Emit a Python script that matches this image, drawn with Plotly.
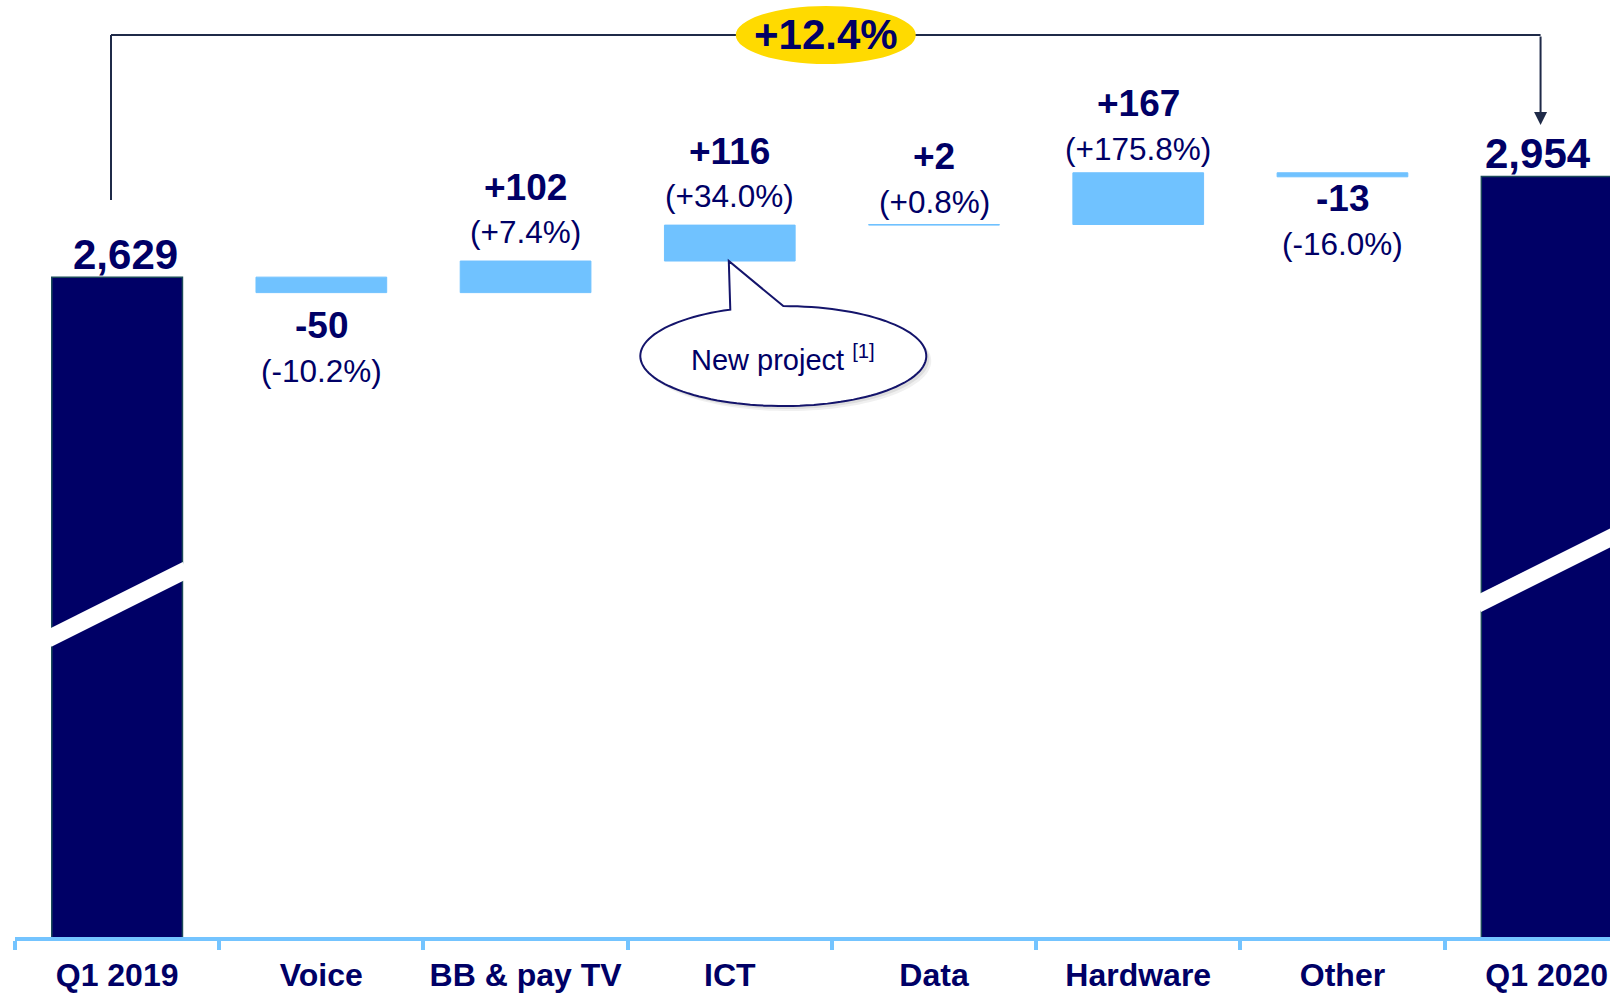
import numpy as np
import plotly.graph_objects as go

# =============================================================================
# DATA
# =============================================================================

categories = ["Q1 2019", "Voice", "BB & pay TV", "ICT", "Data", "Hardware", "Other", "Q1 2020"]
values = [2629, -50, 102, 116, 2, 167, -13, 2954]
measures = ["absolute", "relative", "relative", "relative", "relative", "relative", "relative", "absolute"]
value_labels = ["2,629", "-50", "+102", "+116", "+2", "+167", "-13", "2,954"]
pct_labels = ["", "(-10.2%)", "(+7.4%)", "(+34.0%)", "(+0.8%)", "(+175.8%)", "(-16.0%)", ""]
growth_label = "+12.4%"
callout_label = "New project <sup>[1]</sup>"
callout_category = "ICT"

# =============================================================================
# STYLE
# =============================================================================

NAVY = "#000066"
LIGHT_BLUE = "#70C2FF"
AXIS_BLUE = "#74C4FF"
BRACKET = "#1F2A48"
YELLOW = "#FFDA00"
FONT = "Liberation Sans, Arial, sans-serif"

BAR_WIDTH = 0.64
Y_RANGE = [498, 3524]
X_RANGE = [-0.5, 7.31]
BREAK_CENTRES = [0.355, 0.392]   # paper y of the axis-break stripe on each total bar
BREAK_HALF = 0.037
# small per-category vertical nudges (px) of the value labels
LABEL_NUDGE = {"Voice": -6, "Data": -6, "Hardware": -5, "Other": 5}
TOTAL_XSHIFT = {"Q1 2019": 8, "Q1 2020": -9}

# running totals -> bar start / end
starts, ends = [], []
run = 0
for v, m in zip(values, measures):
    if m == "absolute":
        s, e = 0, v
    else:
        s, e = run, run + v
    starts.append(s)
    ends.append(e)
    run = e

total_idx = [i for i, m in enumerate(measures) if m == "absolute"]

fig = go.Figure()

fig.add_trace(
    go.Waterfall(
        x=categories,
        y=values,
        measure=measures,
        width=BAR_WIDTH,
        connector=dict(visible=False),
        increasing=dict(marker=dict(color=LIGHT_BLUE, line=dict(color=LIGHT_BLUE, width=1))),
        decreasing=dict(marker=dict(color=LIGHT_BLUE, line=dict(color=LIGHT_BLUE, width=1))),
        totals=dict(marker=dict(color=NAVY, line=dict(color="#1B4A5A", width=1.5))),
        hoverinfo="skip",
        showlegend=False,
    )
)

# -----------------------------------------------------------------------------
# value labels
# -----------------------------------------------------------------------------
annotations = []
for i, cat in enumerate(categories):
    if measures[i] == "absolute":
        annotations.append(dict(
            x=cat, y=ends[i], yshift=23, xshift=TOTAL_XSHIFT.get(cat, 0),
            text=f"<b>{value_labels[i]}</b>", showarrow=False,
            font=dict(family=FONT, size=42, color=NAVY),
        ))
        continue
    nudge = LABEL_NUDGE.get(cat, 0)
    if values[i] >= 0:
        sh_bold, sh_pct = 74 + nudge, 29 + nudge
    else:
        sh_bold, sh_pct = -27 + nudge, -72 + nudge
    annotations.append(dict(
        x=cat, y=ends[i], yshift=sh_bold,
        text=f"<b>{value_labels[i]}</b>", showarrow=False,
        font=dict(family=FONT, size=37, color=NAVY),
    ))
    annotations.append(dict(
        x=cat, y=ends[i], yshift=sh_pct,
        text=pct_labels[i], showarrow=False,
        font=dict(family=FONT, size=31.5, color=NAVY),
    ))

# -----------------------------------------------------------------------------
# growth bracket
# -----------------------------------------------------------------------------
x_first = total_idx[0] - 0.03
x_last = total_idx[-1] - 0.03
y_top = ends[-1] + 457
y_left_low = ends[total_idx[0]] + 249
y_arrow_tip = ends[-1] + 166

shapes = [
    dict(type="line", xref="x", yref="y", x0=x_first, x1=x_first, y0=y_left_low, y1=y_top,
         line=dict(color=BRACKET, width=2)),
    dict(type="line", xref="x", yref="y", x0=x_first, x1=x_last, y0=y_top, y1=y_top,
         line=dict(color=BRACKET, width=2)),
]
annotations.append(dict(
    x=x_last, y=y_arrow_tip, ax=x_last, ay=y_top, xref="x", yref="y", axref="x", ayref="y",
    text="", showarrow=True, arrowhead=2, arrowsize=1.3, arrowwidth=2, arrowcolor=BRACKET,
))
x_mid = (x_first + x_last) / 2
shapes.append(dict(
    type="circle", xref="x", yref="y", xsizemode="pixel", ysizemode="pixel",
    xanchor=x_mid, yanchor=y_top, x0=-90, x1=90, y0=-29, y1=29,
    fillcolor=YELLOW, line=dict(width=0),
))
annotations.append(dict(
    x=x_mid, y=y_top, text=f"<b>{growth_label}</b>", showarrow=False,
    font=dict(family=FONT, size=42, color=NAVY),
))

# -----------------------------------------------------------------------------
# axis-break stripes on total bars
# -----------------------------------------------------------------------------
for i, c in zip(total_idx, BREAK_CENTRES):
    shapes.append(dict(
        type="line", xref="x", yref="paper",
        x0=i - BAR_WIDTH / 2 - 0.02, x1=i + BAR_WIDTH / 2 + 0.02,
        y0=c - BREAK_HALF, y1=c + BREAK_HALF,
        line=dict(color="white", width=17),
    ))

# -----------------------------------------------------------------------------
# callout bubble
# -----------------------------------------------------------------------------
ci = categories.index(callout_category)
cx, cy, ra, rb = 53.5, -95, 143, 50
t1 = np.arccos((0.5 - cx) / ra)
t2 = np.pi / 2
ts = np.linspace(t2, t1 - 2 * np.pi, 120)
pts = [(cx + ra * np.cos(t), cy + rb * np.sin(t)) for t in ts]


def bubble_path(dx=0.0, dy=0.0):
    p = f"M {pts[-1][0] + dx:.1f},{pts[-1][1] + dy:.1f} L {-1 + dx:.1f},{0 + dy:.1f} "
    p += " ".join(f"L {x + dx:.1f},{y + dy:.1f}" for x, y in pts)
    return p + " Z"


for dx, dy, op in [(5, -5, 0.06), (3, -3, 0.08)]:
    shapes.append(dict(
        type="path", xref="x", yref="y", xsizemode="pixel", ysizemode="pixel",
        xanchor=ci, yanchor=starts[ci], path=bubble_path(dx, dy),
        fillcolor=f"rgba(0,0,0,{op})", line=dict(width=0),
    ))
shapes.append(dict(
    type="path", xref="x", yref="y", xsizemode="pixel", ysizemode="pixel",
    xanchor=ci, yanchor=starts[ci], path=bubble_path(),
    fillcolor="white", line=dict(color="#14146B", width=2),
))
annotations.append(dict(
    x=ci, y=starts[ci], xshift=cx, yshift=cy - 2, text=callout_label, showarrow=False,
    font=dict(family=FONT, size=29, color=NAVY),
))

fig.update_layout(
    template="none",
    width=1610,
    height=993,
    margin=dict(l=15, r=0, t=0, b=56),
    paper_bgcolor="white",
    plot_bgcolor="white",
    showlegend=False,
    shapes=shapes,
    annotations=annotations,
    xaxis=dict(
        type="category",
        range=X_RANGE,
        showline=True,
        linecolor=AXIS_BLUE,
        linewidth=4,
        ticks="outside",
        tickson="boundaries",
        ticklen=9,
        tickwidth=4,
        tickcolor=AXIS_BLUE,
        tickangle=0,
        ticklabelstandoff=7,
        tickfont=dict(family=FONT, size=32, color=NAVY, weight="bold"),
        showgrid=False,
        zeroline=False,
        automargin=False,
        fixedrange=True,
    ),
    yaxis=dict(
        range=Y_RANGE,
        visible=False,
        showgrid=False,
        zeroline=False,
        automargin=False,
        fixedrange=True,
    ),
)

# drop the default page margin so the figure fills the whole window
fig.write_html(
    "out.html",
    config={"displayModeBar": False},
    post_script="document.body.style.margin='0';document.body.style.overflow='hidden';",
)
